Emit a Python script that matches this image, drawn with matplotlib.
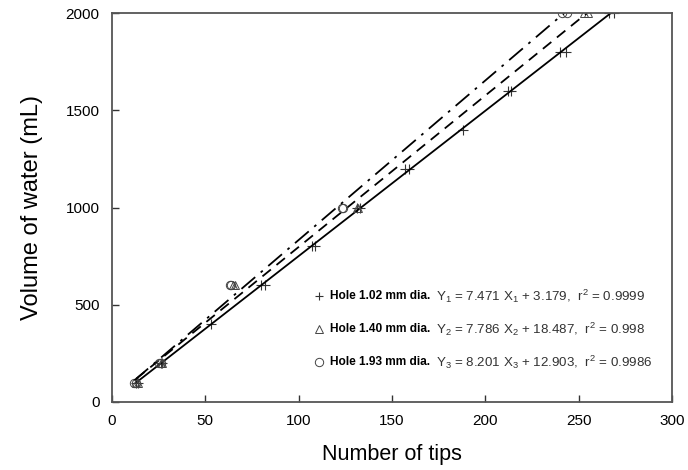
import matplotlib
matplotlib.use("Agg")
import matplotlib.pyplot as plt

plt.rcParams['font.family'] = ['Liberation Sans', 'DejaVu Sans']

# measured points (number of tips, volume in mL), replicates kept
tips_102 = [13, 14, 26, 27, 53, 80, 82, 107, 109, 131, 133, 157, 159, 188, 212, 214, 240, 243, 266, 269]
vol_102 = [100, 100, 200, 200, 400, 600, 600, 800, 800, 1000, 1000, 1200, 1200, 1400, 1600, 1600, 1800, 1800, 2000, 2000]

tips_140 = [13, 14, 26, 27, 65, 66, 131, 132, 253, 255]
vol_140 = [100, 100, 200, 200, 600, 600, 1000, 1000, 2000, 2000]

tips_193 = [12, 13, 25, 26, 63, 64, 123, 124, 241, 244]
vol_193 = [100, 100, 200, 200, 600, 600, 1000, 1000, 2000, 2000]

# regression coefficients
labels = ['Hole 1.02 mm dia.', 'Hole 1.40 mm dia.', 'Hole 1.93 mm dia.']
slopes = [7.471, 7.786, 8.201]
intercepts = [3.179, 18.487, 12.903]
r2 = ['0.9999', '0.998', '0.9986']

fig = plt.figure(figsize=(6.88, 4.70), dpi=100)
ax = fig.add_axes([0.1628, 0.1447, 0.8139, 0.8276])

series = [(tips_102, vol_102), (tips_140, vol_140), (tips_193, vol_193)]
markers = ['+', '^', 'o']
msizes = [7, 6, 6]
styles = ['-', (0, (6, 4)), (0, (10, 4, 1.5, 4))]

for i, (x, y) in enumerate(series):
    if markers[i] == '+':
        ax.plot(x, y, linestyle='none', marker='+', ms=msizes[i], mew=0.8, color='#333333')
    else:
        ax.plot(x, y, linestyle='none', marker=markers[i], ms=msizes[i], mew=0.7,
                mfc='none', mec='#444444')
    x0 = min(x)
    x1 = (2000 - intercepts[i]) / slopes[i]
    ax.plot([x0, x1], [slopes[i] * x0 + intercepts[i], 2000],
            linestyle=styles[i], color='black', lw=1.3)

ax.set_xlim(0, 300)
ax.set_ylim(0, 2000)
ax.set_xticks([0, 50, 100, 150, 200, 250, 300])
ax.set_yticks([0, 500, 1000, 1500, 2000])
ax.tick_params(direction='in', length=5, width=1, labelsize=11, color='#333333', pad=9)
for s in ax.spines.values():
    s.set_color('#555555')
    s.set_linewidth(1.3)

ax.set_xlabel('Number of tips', fontsize=15.5, labelpad=11)
ax.set_ylabel('Volume of water (mL)', fontsize=17, labelpad=16)

# hand-made legend with fit equations
rows_y = [0.272, 0.188, 0.103]
for i in range(3):
    yy = rows_y[i]
    if markers[i] == '+':
        ax.plot([0.37], [yy], transform=ax.transAxes, marker='+', ms=6, mew=0.8,
                color='#333333', linestyle='none', clip_on=False)
    else:
        ax.plot([0.37], [yy], transform=ax.transAxes, marker=markers[i], ms=6, mew=0.7,
                mfc='none', mec='#444444', linestyle='none', clip_on=False)
    ax.text(0.389, yy, labels[i], transform=ax.transAxes, fontsize=8.6,
            fontweight='bold', va='center', ha='left')
    n = i + 1
    eq = (r'$\mathregular{Y_%d}$ = %.3f $\mathregular{X_%d}$ + %.3f,  $\mathregular{r^2}$ = %s'
          % (n, slopes[i], n, intercepts[i], r2[i]))
    ax.text(0.578, yy, eq, transform=ax.transAxes, fontsize=9.6, color='#333333',
            va='center', ha='left')

fig.savefig('out.png', dpi=100)
